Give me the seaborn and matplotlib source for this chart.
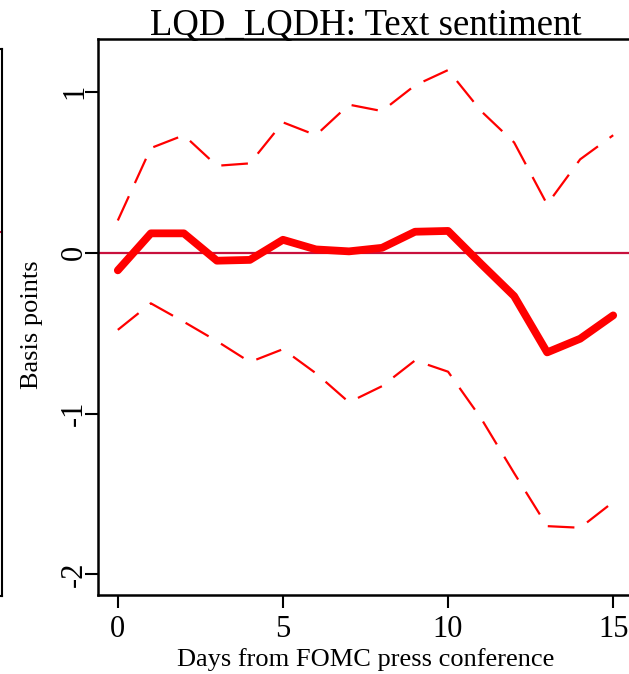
import pandas as pd
import matplotlib
matplotlib.use('Agg')
import matplotlib.pyplot as plt
import seaborn as sns

# Impulse response: text sentiment, LQD_LQDH (basis points)
days = list(range(16))
estimate = [-0.11, 0.12, 0.12, -0.05, -0.045, 0.08, 0.02, 0.008, 0.03, 0.13, 0.135,
            -0.07, -0.27, -0.62, -0.535, -0.39]
upper = [0.20, 0.65, 0.73, 0.54, 0.555, 0.81, 0.73, 0.92, 0.88, 1.04, 1.135,
         0.88, 0.685, 0.30, 0.58, 0.73]
lower = [-0.48, -0.315, -0.43, -0.55, -0.68, -0.60, -0.75, -0.93, -0.83, -0.67, -0.74,
         -1.03, -1.37, -1.70, -1.71, -1.55]

title = 'LQD_LQDH: Text sentiment'
xlabel = 'Days from FOMC press conference'
ylabel = 'Basis points'
xticks = [0, 5, 10, 15]
yticks = [-2, -1, 0, 1]

df = pd.DataFrame({'day': days, 'estimate': estimate, 'upper': upper, 'lower': lower})

sns.set_style('white')
plt.rcParams['font.family'] = ['Liberation Serif', 'DejaVu Serif']
plt.rcParams['text.color'] = 'black'
plt.rcParams['axes.labelcolor'] = 'black'
plt.rcParams['xtick.color'] = 'black'
plt.rcParams['ytick.color'] = 'black'

W, H = 629, 674
fig = plt.figure(figsize=(W / 100, H / 100), dpi=100)

# main panel (right edge runs just past the canvas, as in the cropped original)
ax = fig.add_axes([98 / W, 1 - 595 / H, (633 - 98) / W, (595 - 39) / H])

# sliver of the neighbouring panel on the far left
ax_prev = fig.add_axes([-0.3, 1 - 596 / H, 0.3 + 1.5 / W, (596 - 49) / H])
ax_prev.set_xticks([])
ax_prev.set_yticks([])
ax_prev.set_ylim(0, 1)
ax_prev.axhline((596 - 232) / (596 - 49), color='#C8103C', lw=1.5)
for s in ax_prev.spines.values():
    s.set_linewidth(1.5)
    s.set_color('black')

ax.axhline(0, color='#C8103C', lw=1.6, zorder=1)
sns.lineplot(data=df, x='day', y='upper', ax=ax, color='red', lw=1.6, zorder=2)
ax.lines[-1].set_dashes((12, 6.5))
sns.lineplot(data=df, x='day', y='lower', ax=ax, color='red', lw=1.6, zorder=2)
ax.lines[-1].set_dashes((12, 6.5))
sns.lineplot(data=df, x='day', y='estimate', ax=ax, color='red', lw=5.6, zorder=3)

ax.set_xlim(-0.6, 15.6)
ax.set_ylim(-2.128, 1.328)
ax.set_xticks(xticks)
ax.set_yticks(yticks)
ax.set_yticklabels([str(v) for v in yticks], rotation=90, va='center')
ax.tick_params(axis='both', direction='out', length=9.5, width=1.5, labelsize=22,
               bottom=True, left=True)
ax.tick_params(axis='x', pad=5)
ax.tick_params(axis='y', pad=-3)
for s in ax.spines.values():
    s.set_linewidth(1.8)
    s.set_color('black')

ax.set_title(title, fontsize=26.5, pad=3)
ax.set_xlabel(xlabel, fontsize=19, labelpad=3)
ax.set_ylabel(ylabel, fontsize=19)
ax.yaxis.set_label_coords(-0.102, 0.486)

fig.savefig('out.png', dpi=100)
